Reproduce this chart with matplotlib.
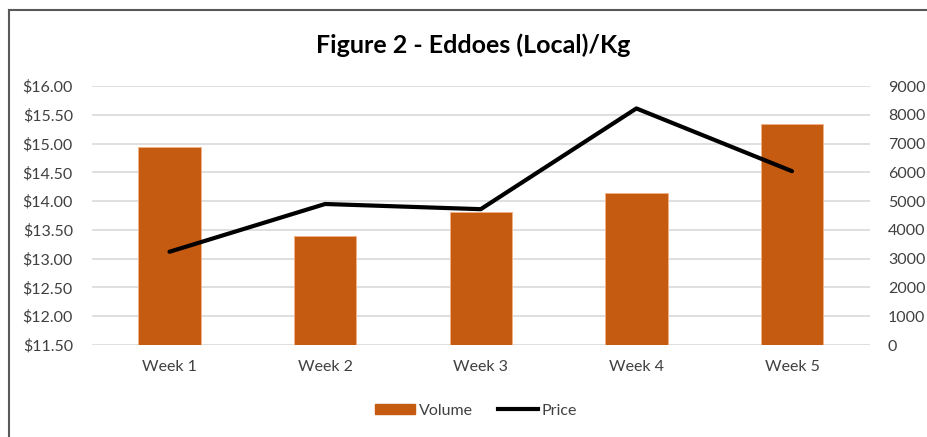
import matplotlib.pyplot as plt
from matplotlib.lines import Line2D
from matplotlib.patches import Patch

weeks = ["Week 1", "Week 2", "Week 3", "Week 4", "Week 5"]
volume = [6870, 3790, 4630, 5290, 7690]
price = [13.12, 13.95, 13.86, 15.61, 14.52]

price_ticks = [11.5 + 0.5 * i for i in range(10)]
volume_ticks = list(range(0, 9001, 1000))

BAR = "#C55A11"
GRID = "#D9D9D9"
TXT = "#404040"

plt.rcParams["font.family"] = ["Lato", "DejaVu Sans"]

fig = plt.figure(figsize=(9.28, 4.37), dpi=100)
ax = fig.add_axes([0.0988, 0.2105, 0.8385, 0.5927])
ax2 = ax.twinx()

x = list(range(len(weeks)))

# bars and grid on the volume axis (behind), price line on top
ax2.bar(x, volume, width=0.4, color=BAR, edgecolor="#F4B183", linewidth=0.6, zorder=2)
ax2.set_ylim(0, 9000)
ax2.set_yticks(volume_ticks)
ax2.yaxis.grid(True, color=GRID, linewidth=1.2, zorder=0)
ax2.set_axisbelow(True)

ax.plot(x, price, color="black", linewidth=3, solid_capstyle="round", zorder=5)
ax.set_ylim(11.5, 16.0)
ax.set_yticks(price_ticks)
ax.set_yticklabels([f"${v:.2f}" for v in price_ticks])
ax.set_xlim(-0.5, len(weeks) - 0.5)
ax.set_xticks(x)
ax.set_xticklabels(weeks)

ax.set_zorder(ax2.get_zorder() + 1)
ax.patch.set_visible(False)

for a in (ax, ax2):
    for s in a.spines.values():
        s.set_visible(False)
    a.tick_params(length=0, labelsize=11.5, labelcolor=TXT)
ax.tick_params(axis="y", pad=13.5)
ax.tick_params(axis="x", pad=10.5)
ax2.tick_params(axis="y", pad=13)

fig.text(0.51, 0.897, "Figure 2 - Eddoes (Local)/Kg", ha="center", va="center",
         fontsize=18, fontweight="bold", color="black")

handles = [Patch(facecolor=BAR, edgecolor=BAR),
           Line2D([0], [0], color="black", linewidth=3)]
fig.legend(handles, ["Volume", "Price"], loc="center", bbox_to_anchor=(0.513, 0.06),
           ncol=2, frameon=False, fontsize=11.5, handlelength=2.5, handleheight=0.6,
           handletextpad=0.2, columnspacing=1.6, labelcolor=TXT)

# chart frame (top and left edges visible)
fig.add_artist(Line2D([9.5 / 928, 1], [1 - 10 / 437, 1 - 10 / 437], color="#595959",
                      linewidth=1.5, transform=fig.transFigure))
fig.add_artist(Line2D([9.5 / 928, 9.5 / 928], [0, 1 - 10 / 437], color="#595959",
                      linewidth=1.5, transform=fig.transFigure))

fig.savefig("out.png", dpi=100, facecolor="white")
